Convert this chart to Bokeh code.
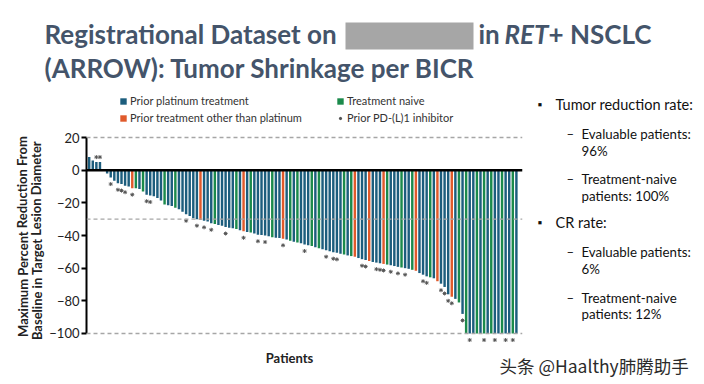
from bokeh.plotting import figure
from bokeh.layouts import column, row
from bokeh.models import (ColumnDataSource, Label, Span, BoxAnnotation, FixedTicker,
                          Legend, LegendItem, Range1d)
from bokeh.embed import file_html
from bokeh.resources import INLINE

# ---------------- data ----------------
change = [8, 6, 5, 5, -0.5, -2, -4.5, -6.5, -8, -8.5,
          -9.5, -10, -11, -11, -11.5, -13, -15, -15.5, -16, -17,
          -18.5, -21, -21.5, -22, -23, -24, -25.5, -27, -28, -29.5,
          -30, -30.5, -31, -31.5, -32.5, -33, -33.5, -34, -34.8, -35.2,
          -35.6, -36, -36.8, -37.4, -37.8, -38.2, -38.8, -39.5, -39.7, -40,
          -40.5, -41, -41.3, -41.6, -42, -42.5, -43.2, -43.8, -44.3, -44.8,
          -45.5, -46, -46.5, -47.2, -47.8, -48.4, -49, -49.6, -50.2, -50.6,
          -51.2, -51.7, -52.2, -52.6, -53, -53.8, -54.5, -55, -55.6, -56.2,
          -56.6, -57, -57.4, -57.8, -58.2, -58.7, -59.2, -59.6, -60, -60.4,
          -61, -61.6, -63, -64, -65, -65.6, -66.2, -68, -69.5, -71.5,
          -76, -77.5, -78.8, -81, -88, -100, -100, -100, -100, -100,
          -100, -100, -100, -100, -100, -100, -100, -100, -100, -100]
naive_idx = [13, 15, 21, 24, 35, 41, 45, 51, 56, 58, 62, 64, 71, 73, 83, 87,
             90, 95, 103, 105, 108, 110, 112, 115, 118]
other_idx = [12, 31, 43, 54, 74, 78, 82, 91, 97, 101]
pd1_idx = [2, 3, 6, 8, 9, 10, 12, 16, 17, 27, 30, 32, 34, 38, 43, 47, 49, 54,
           60, 66, 68, 69, 76, 77, 80, 81, 82, 84, 86, 88, 93, 94, 98, 99,
           100, 101, 104, 106, 110, 113, 116, 118]
y_ticks = [-100, -80, -60, -40, -20, 0, 20]
ref_lines = [20, -30, -100]

C_PLAT = "#1c5d7d"
C_NAIVE = "#1b8a4b"
C_OTHER = "#e05a2b"
FONT = "Lato"
TXT = "#333333"
DARK = "#111111"
TITLE_C = "#44546a"

# ---------------- sources ----------------
def subset(idxs):
    return ColumnDataSource(dict(x=idxs, y=[change[i] for i in idxs]))

n = len(change)
plat_idx = [i for i in range(n) if i not in naive_idx and i not in other_idx]
src_plat, src_naive, src_other = subset(plat_idx), subset(naive_idx), subset(other_idx)
pd_y = [change[i] - 4.0 if change[i] < 0 else change[i] + 3.0 for i in pd1_idx]
src_pd = ColumnDataSource(dict(x=pd1_idx, y=pd_y))


def blank(w, h):
    f = figure(width=w, height=h, output_backend="svg", toolbar_location=None,
               x_range=Range1d(0, w), y_range=Range1d(0, h),
               x_axis_type=None, y_axis_type=None, min_border=0,
               outline_line_color=None, background_fill_color=None,
               border_fill_color=None)
    f.grid.visible = False
    return f


def lab(fig, ox, oy_bottom, text, x, y, size, style="normal", color=TXT,
        font=FONT, angle=0, align="left", baseline="middle"):
    """x, y are page pixels; ox = figure left, oy_bottom = figure bottom (page)."""
    fig.add_layout(Label(x=x - ox, y=oy_bottom - y, x_units="screen", y_units="screen",
                         text=text, text_font=font, text_font_size=size,
                         text_font_style=style, text_color=color, angle=angle,
                         text_align=align, text_baseline=baseline))


# ---------------- title strip (page y 0..92) ----------------
top = blank(704, 92)
T = dict(size="26px", style="bold", color=TITLE_C)
lab(top, 0, 92, "Registrational Dataset on", 44, 33, **T)
top.add_layout(BoxAnnotation(left=345, right=473, top=92 - 22, bottom=92 - 49,
                             left_units="screen", right_units="screen",
                             top_units="screen", bottom_units="screen",
                             fill_color="#a6a6a6", fill_alpha=1, line_color=None))
lab(top, 0, 92, "in", 478, 33, **T)
lab(top, 0, 92, "RET", 504, 33, size="26px", style="bold italic", color=TITLE_C)
lab(top, 0, 92, "+ NSCLC", 548, 33, **T)
lab(top, 0, 92, "(ARROW): Tumor Shrinkage per BICR", 44, 67, **T)

# ---------------- y-axis title strip (page x 0..46, y 92..345) ----------------
LW = 46
left = blank(LW, 253)
lab(left, 0, 345, "Maximum Percent Reduction From", 22, 236, "13px", "bold",
    "#222222", angle=1.5708, align="center")
lab(left, 0, 345, "Baseline in Target Lesion Diameter", 36, 240, "13px", "bold",
    "#222222", angle=1.5708, align="center")

# ---------------- main chart (page x 46..530, y 92..345) ----------------
p = figure(width=530 - LW, height=253, output_backend="svg", toolbar_location=None,
           x_range=Range1d(-0.75, 120.7), y_range=Range1d(-107.35, 47.56),
           min_border_left=86 - LW, min_border_right=8, min_border_top=0,
           min_border_bottom=0, background_fill_color=None,
           border_fill_color=None, outline_line_color=None)
p.grid.visible = False
p.xaxis.visible = False

ax = p.yaxis[0]
ax.ticker = FixedTicker(ticks=y_ticks)
ax.bounds = (-100, 20)
ax.axis_line_width = 2
ax.axis_line_color = "black"
ax.major_tick_line_width = 2
ax.major_tick_out = 5
ax.major_tick_in = 0
ax.minor_tick_line_color = None
ax.major_label_text_font = FONT
ax.major_label_text_font_size = "13px"
ax.major_label_text_color = "#222222"
ax.major_label_standoff = 2

for v in ref_lines:
    p.add_layout(Span(location=v, dimension="width", line_color="#a6a6a6",
                      line_dash="4 3", line_width=1.3))

bw = 0.68
r_plat = p.vbar(x="x", top="y", bottom=0, width=bw, source=src_plat,
                fill_color=C_PLAT, line_color=None)
r_naive = p.vbar(x="x", top="y", bottom=0, width=bw, source=src_naive,
                 fill_color=C_NAIVE, line_color=None)
r_other = p.vbar(x="x", top="y", bottom=0, width=bw, source=src_other,
                 fill_color=C_OTHER, line_color=None)
r_pd = p.scatter(x="x", y="y", source=src_pd, marker="asterisk", size=4,
                 line_color="#555555", line_width=1)

p.add_layout(Span(location=0, dimension="width", line_color="black", line_width=2.5))

LEG = dict(padding=0, margin=0, spacing=4, glyph_width=8, glyph_height=8,
           label_height=11, label_standoff=3, label_text_font=FONT,
           label_text_font_size="11px", label_text_color=TXT,
           border_line_color=None, background_fill_alpha=0)
leg1 = Legend(items=[
    LegendItem(label="Prior platinum treatment", renderers=[r_plat]),
    LegendItem(label="Prior treatment other than platinum", renderers=[r_other]),
], location=(119 - 86, 345 - 124), **LEG)
leg2 = Legend(items=[
    LegendItem(label="Treatment naive", renderers=[r_naive]),
    LegendItem(label="Prior PD-(L)1 inhibitor", renderers=[r_pd]),
], location=(336 - 86, 345 - 124), **LEG)
p.add_layout(leg1, "center")
p.add_layout(leg2, "center")

# ---------------- notes strip (page x 530..704, y 92..345) ----------------
notes = blank(174, 253)
N = dict(color=DARK)
lab(notes, 530, 345, "\u25aa", 537, 104, "12px", **N)
lab(notes, 530, 345, "Tumor reduction rate:", 555, 104, "14.5px", **N)
lab(notes, 530, 345, "\u2013", 566, 133, "13px", **N)
lab(notes, 530, 345, "Evaluable patients:", 581, 133, "13.3px", **N)
lab(notes, 530, 345, "96%", 581, 150, "13.3px", **N)
lab(notes, 530, 345, "\u2013", 566, 178, "13px", **N)
lab(notes, 530, 345, "Treatment-naive", 581, 178, "13.3px", **N)
lab(notes, 530, 345, "patients: 100%", 581, 195, "13.3px", **N)
lab(notes, 530, 345, "\u25aa", 537, 222, "12px", **N)
lab(notes, 530, 345, "CR rate:", 555, 222, "14.5px", **N)
lab(notes, 530, 345, "\u2013", 566, 251, "13px", **N)
lab(notes, 530, 345, "Evaluable patients:", 581, 251, "13.3px", **N)
lab(notes, 530, 345, "6%", 581, 268, "13.3px", **N)
lab(notes, 530, 345, "\u2013", 566, 297, "13px", **N)
lab(notes, 530, 345, "Treatment-naive", 581, 297, "13.3px", **N)
lab(notes, 530, 345, "patients: 12%", 581, 313, "13.3px", **N)

# ---------------- bottom strip (page y 345..384) ----------------
bottom = blank(704, 39)
lab(bottom, 0, 384, "Patients", 289, 357, "13px", "bold", "#222222", align="center")
lab(bottom, 0, 384, "头条 @Haalthy肺腾助手", 499, 365, "17.5px", color="#2b2b2b",
    font="Noto Sans CJK SC")

layout = column(top, row(left, p, notes), bottom)
open("out.html", "w").write(file_html(layout, INLINE))
